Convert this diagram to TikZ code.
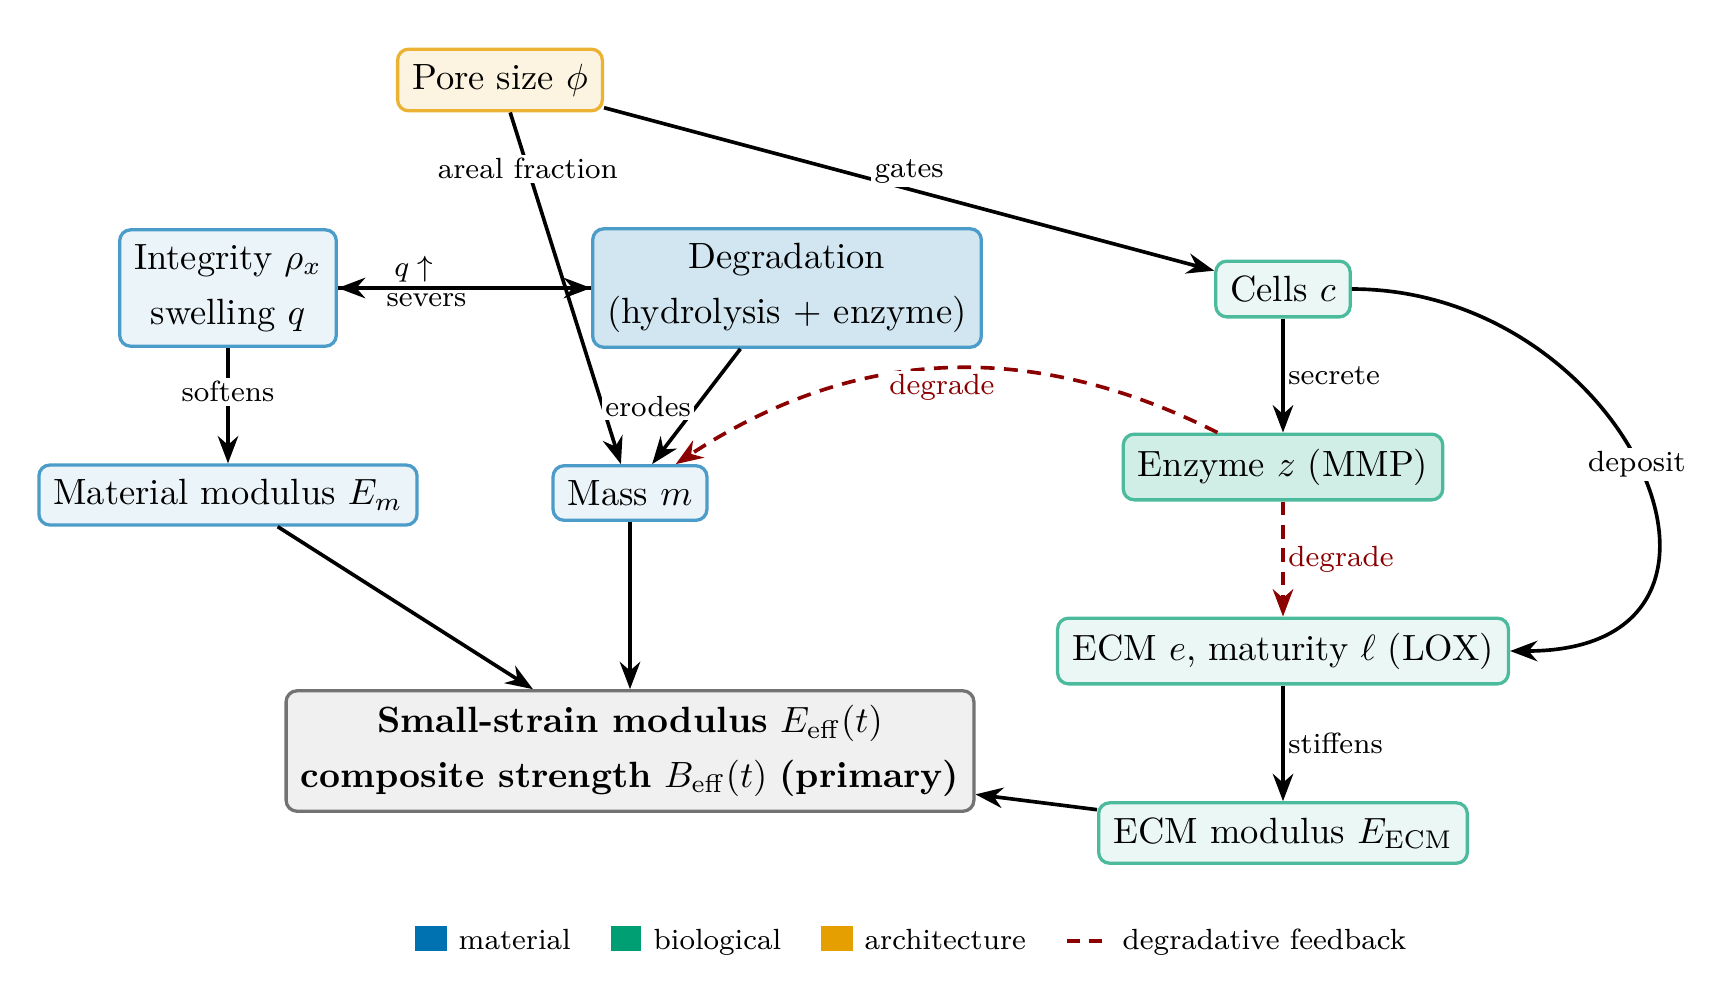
\documentclass[tikz,border=0pt]{standalone}
\usetikzlibrary{arrows.meta}
\definecolor{matblue}{HTML}{0072B2}
\definecolor{biogreen}{HTML}{009E73}
\definecolor{archorange}{HTML}{E69F00}
\definecolor{fbred}{HTML}{8B0000}
\begin{document}
\begin{tikzpicture}[x=0.274pt,y=0.274pt,
  box/.style={draw, line width=0.9pt, rounded corners=3pt, inner sep=4pt, align=center, font=\normalsize},
  matbox/.style={box, draw=matblue!70, fill=matblue!8},
  biobox/.style={box, draw=biogreen!70, fill=biogreen!8},
  archbox/.style={box, draw=archorange!80, fill=archorange!12},
  outbox/.style={box, draw=black!55, fill=black!6},
  arr/.style={-{Stealth}, line width=1pt},
  fb/.style={-{Stealth}, line width=1pt, fbred, dash pattern=on 3.8pt off 2.6pt},
  lbl/.style={font=\footnotesize, fill=white, inner sep=1pt},
  leg/.style={font=\footnotesize, inner sep=0pt, anchor=base west},
]
\useasboundingbox (0,0) rectangle (1722,-996);

\node[archbox] (pore) at (500,-80) {Pore size $\phi$};
\node[matbox] (integ) at (228,-288) {Integrity $\rho_x$\\[3pt]swelling $q$};
\node[matbox, fill=matblue!18] (degr) at (787,-288) {Degradation\\[3pt](hydrolysis + enzyme)};
\node[biobox] (cells) at (1283,-289) {Cells $c$};
\node[matbox] (matmod) at (228,-495) {Material modulus $E_m$};
\node[matbox] (mass) at (630,-493) {Mass $m$};
\node[biobox, fill=biogreen!18] (enz) at (1283,-467) {Enzyme $z$ (MMP)};
\node[biobox] (ecm) at (1283,-651) {ECM $e$, maturity $\ell$ (LOX)};
\node[biobox] (ecmmod) at (1283,-833) {ECM modulus $E_{\mathrm{ECM}}$};
\node[outbox] (eff) at (630,-751) {\textbf{Small-strain modulus} $E_{\mathrm{eff}}(t)$\\[3pt]\textbf{composite strength} $B_{\mathrm{eff}}(t)$ \textbf{(primary)}};

\draw[arr] (pore) -- node[lbl, pos=0.16] {areal fraction} (mass);
\draw[arr] (pore) -- node[lbl, above, midway] {gates} (cells);
\draw[arr] (integ) -- node[lbl, above, pos=0.3, fill=none] {$q\uparrow$} (degr);
\draw[arr] (degr) -- node[lbl, below, pos=0.65] {severs} (integ);
\draw[arr] (integ) -- node[lbl, pos=0.38] {softens} (matmod);
\draw[arr] (degr) -- node[lbl, left, midway] {erodes} (mass);
\draw[arr] (cells) -- node[lbl, right, midway] {secrete} (enz);
\draw[arr] (cells.east) to[out=0, in=0, looseness=1.8] node[lbl, pos=0.49] {deposit} (ecm.east);
\draw[fb] (enz) to[bend right=30] node[lbl, below, pos=0.5, text=fbred] {degrade} (mass);
\draw[fb] (enz) -- node[lbl, right, midway, text=fbred] {degrade} (ecm);
\draw[arr] (ecm) -- node[lbl, right, midway] {stiffens} (ecmmod);
\draw[arr] (ecmmod) -- (eff);
\draw[arr] (matmod) -- (eff);
\draw[arr] (mass) -- (eff);

% legend
\fill[matblue] (415,-926) rectangle (447,-951);
\node[leg] (lmat) at (458,-949) {material};
\fill[biogreen] (611,-926) rectangle (641,-951);
\node[leg] (lbio) at (653,-949) {biological};
\fill[archorange] (821,-926) rectangle (853,-951);
\node[leg] (larch) at (864,-949) {architecture};
\draw[fbred, line width=1.2pt, dash pattern=on 3.5pt off 2.5pt] (1067,-941) -- (1102,-941);
\node[leg] (lfb) at (1122,-949) {degradative feedback};
\end{tikzpicture}
\end{document}
